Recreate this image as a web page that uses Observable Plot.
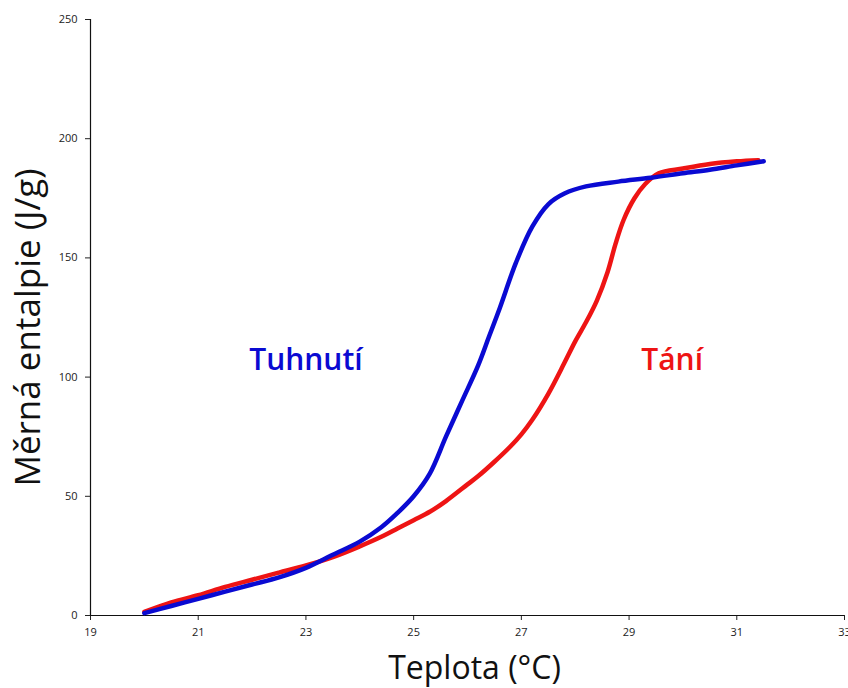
<!DOCTYPE html>
<html>
<head>
<meta charset="utf-8">
<script src="https://cdn.jsdelivr.net/npm/d3@7"></script>
<script src="https://cdn.jsdelivr.net/npm/@observablehq/plot@0.6"></script>
<style>
  body { margin: 0; background: #fff; }
  #chart { width: 848px; height: 688px; }
</style>
</head>
<body>
<div id="chart"></div>
<script>
// Cooling curve (Tuhnutí): temperature °C, specific enthalpy J/g
const tuhnutiT = [20.0, 20.5, 21.0, 21.5, 22.0, 22.5, 23.0, 23.5, 24.0, 24.4, 24.7, 25.0, 25.3, 25.6, 25.9, 26.2, 26.4, 26.6, 26.9, 27.2, 27.5, 27.8, 28.2, 28.8, 29.4, 30.0, 30.5, 31.0, 31.5];
const tuhnutiH = [1, 4, 7, 10, 13, 16, 20, 25.5, 31, 37, 43, 50, 59.5, 75, 90, 105, 117, 129, 148, 163, 172.5, 177, 180, 182, 183.6, 185.5, 187, 188.8, 190.5];

// Heating curve (Tání)
const taniT = [20.0, 20.5, 21.0, 21.5, 22.0, 22.5, 23.0, 23.5, 24.0, 24.4, 24.7, 25.0, 25.3, 25.6, 26.0, 26.2, 26.5, 26.8, 27.0, 27.2, 27.5, 27.8, 28.0, 28.2, 28.4, 28.6, 28.75, 28.9, 29.1, 29.3, 29.55, 30.0, 30.5, 31.0, 31.4];
const taniH = [1.5, 5.5, 8.5, 12, 15, 18, 21, 24.5, 29, 33, 36.5, 40, 43.5, 48, 55, 58.5, 64.5, 71, 76, 82, 93, 106, 115, 123, 132, 144, 156, 166, 175, 181, 185.5, 187.5, 189.4, 190.5, 191];

const xTicks = [19, 21, 23, 25, 27, 29, 31, 33];
const yTicks = [0, 50, 100, 150, 200, 250];

const seriesLabels = ["Tuhnutí", "Tání"];
const labelT = [23.0, 29.8];
const labelH = [107, 107];

const xTitle = "Teplota (°C)";
const yTitle = "Měrná entalpie (J/g)";

const tuhnuti = tuhnutiT.map((t, i) => ({t, h: tuhnutiH[i]}));
const tani = taniT.map((t, i) => ({t, h: taniH[i]}));
const labels = seriesLabels.map((name, i) => ({name, t: labelT[i], h: labelH[i]}));

const BLUE = "#0a0ad2";
const RED = "#ee1414";

const chart = Plot.plot({
  width: 848,
  height: 688,
  marginLeft: 90,
  marginRight: 4,
  marginTop: 19,
  marginBottom: 73,
  style: {fontFamily: "'Open Sans', sans-serif", background: "#fff", overflow: "visible"},
  x: {domain: [19, 33]},
  y: {domain: [0, 250]},
  marks: [
    Plot.axisX({ticks: xTicks, tickSize: 5, tickPadding: 8, label: null, fontSize: 11, color: "#222", tickFormat: d => String(d)}),
    Plot.axisY({ticks: yTicks, tickSize: 5, tickPadding: 8, label: null, fontSize: 11, color: "#222", tickFormat: d => String(d)}),
    Plot.ruleY([0], {stroke: "#111", strokeWidth: 1.2}),
    Plot.ruleX([19], {stroke: "#111", strokeWidth: 1.2}),
    Plot.line(tani, {x: "t", y: "h", stroke: RED, strokeWidth: 4.5, curve: "catmull-rom"}),
    Plot.line(tuhnuti, {x: "t", y: "h", stroke: BLUE, strokeWidth: 4.5, curve: "catmull-rom"}),
    Plot.text(labels, {x: "t", y: "h", text: "name", fill: (d, i) => i === 0 ? BLUE : RED, fontSize: 30, fontWeight: 600}),
    Plot.text([xTitle], {frameAnchor: "bottom", textAnchor: "middle", dx: 7, dy: 53, fontSize: 32, fill: "#111", lineAnchor: "middle"}),
    Plot.text([yTitle], {frameAnchor: "left", textAnchor: "middle", rotate: -90, dx: -62, dy: 10, fontSize: 35, fill: "#111", lineAnchor: "middle"})
  ]
});

document.getElementById("chart").append(chart);
</script>
</body>
</html>
